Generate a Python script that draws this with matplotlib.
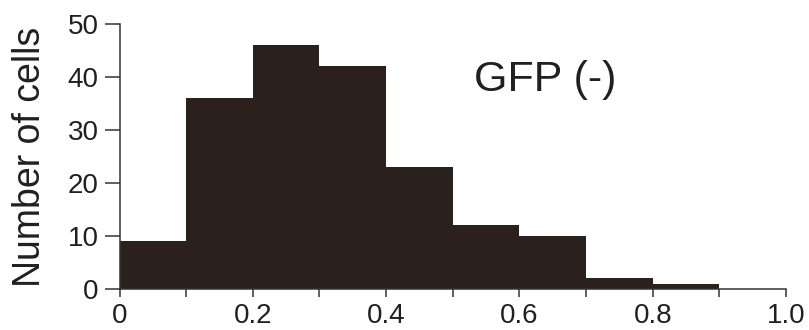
import numpy as np
import matplotlib
matplotlib.use('Agg')
import matplotlib.pyplot as plt

plt.rcParams['font.family'] = ['Liberation Sans', 'DejaVu Sans']

# histogram bins (left edges) and counts
bin_edges = [0.0, 0.1, 0.2, 0.3, 0.4, 0.5, 0.6, 0.7, 0.8, 0.9, 1.0]
counts = [9, 36, 46, 42, 23, 12, 10, 2, 1, 0]
x_ticks = [0, 0.2, 0.4, 0.6, 0.8, 1.0]
x_tick_labels = ['0', '0.2', '0.4', '0.6', '0.8', '1.0']
y_ticks = [0, 10, 20, 30, 40, 50]

bar_color = '#2a211c'
text_color = '#231f20'

fig = plt.figure(figsize=(8.09, 3.30), dpi=100)
ax = fig.add_axes([119.5 / 809, 1 - 289 / 330, (786 - 119.5) / 809, (289 - 24) / 330])

lefts = np.array(bin_edges[:-1])
widths = np.diff(bin_edges)
ax.bar(lefts, counts, width=widths, align='edge', color=bar_color, edgecolor=bar_color, linewidth=0)

ax.set_xlim(0, 1.0)
ax.set_ylim(0, 50)

for s in ['top', 'right']:
    ax.spines[s].set_visible(False)
for s in ['left', 'bottom']:
    ax.spines[s].set_linewidth(1.1)
    ax.spines[s].set_color('#333333')

ax.set_xticks(x_ticks)
ax.set_xticklabels(x_tick_labels)
ax.set_xticks(np.array(bin_edges), minor=True)
ax.set_yticks(y_ticks)

ax.tick_params(axis='x', which='both', direction='out', length=6, width=1.1, color='#333333',
               labelsize=20, pad=4, labelcolor=text_color)
ax.tick_params(axis='y', direction='out', length=11, width=1.1, color='#333333',
               labelsize=20, pad=4, labelcolor=text_color)

ax.set_ylabel('Number of cells', fontsize=27, color=text_color)
ax.yaxis.set_label_coords(-0.107, 0.5)

ax.text(0.532, 0.79, 'GFP (-)', transform=ax.transAxes, fontsize=31, color=text_color,
        ha='left', va='center')

plt.savefig('out.png', dpi=100)
